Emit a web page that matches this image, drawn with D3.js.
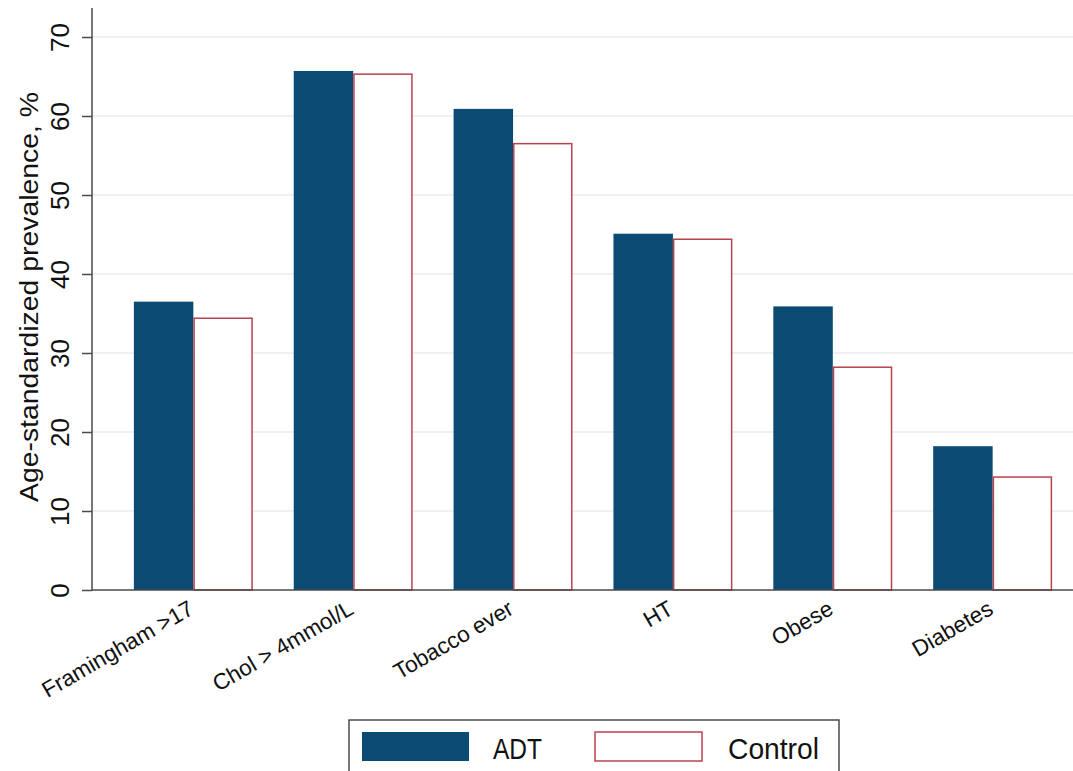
<!DOCTYPE html>
<html>
<head>
<meta charset="utf-8">
<script src="https://cdn.jsdelivr.net/npm/d3@7"></script>
<style>
  html, body { margin: 0; padding: 0; background: #ffffff; }
  svg { display: block; font-family: "Liberation Sans", Arial, Helvetica, sans-serif; }
</style>
</head>
<body>
<svg id="chart" width="1073" height="771"></svg>
<script>
const categories = ["Framingham >17", "Chol > 4mmol/L", "Tobacco ever", "HT", "Obese", "Diabetes"];
const seriesNames = ["ADT", "Control"];
const adtValues = [36.5, 65.7, 60.9, 45.1, 35.9, 18.2];
const controlValues = [34.4, 65.3, 56.5, 44.4, 28.2, 14.3];
const yTicks = [0, 10, 20, 30, 40, 50, 60, 70];
const yTitle = "Age-standardized prevalence, %";

const W = 1073, H = 771;
const axisX = 92, axisBottom = 590, axisTopPx = 8;
const adtColor = "#0b4a73";
const ctrlStroke = "#b9434d";
const axisColor = "#4a4a4a";
const gridColor = "#e9ecee";

const svg = d3.select("#chart");
svg.append("rect").attr("width", W).attr("height", H).attr("fill", "#fff");

const y = d3.scaleLinear().domain([0, 70]).range([axisBottom, 37]);
const x0 = d3.scaleBand().domain(categories).range([axisX, 1094])
  .paddingInner(0.256).paddingOuter(0.262);
const x1 = d3.scaleBand().domain(seriesNames).range([0, x0.bandwidth()]).padding(0);

// gridlines
svg.append("g").selectAll("line").data(yTicks.filter(d => d > 0)).join("line")
  .attr("x1", axisX).attr("x2", W)
  .attr("y1", d => y(d)).attr("y2", d => y(d))
  .attr("stroke", gridColor).attr("stroke-width", 1.5);

// bars
const rows = categories.map((c, i) => ({ cat: c, vals: [
  { s: "ADT", v: adtValues[i] }, { s: "Control", v: controlValues[i] }] }));

const groups = svg.append("g").selectAll("g").data(rows).join("g")
  .attr("transform", d => `translate(${x0(d.cat)},0)`);

groups.selectAll("rect").data(d => d.vals).join("rect")
  .attr("x", d => x1(d.s) + (d.s === "Control" ? 0.75 : 0))
  .attr("width", d => x1.bandwidth() - (d.s === "Control" ? 1.5 : 0))
  .attr("y", d => y(d.v))
  .attr("height", d => axisBottom - y(d.v))
  .attr("fill", d => d.s === "ADT" ? adtColor : "#ffffff")
  .attr("stroke", d => d.s === "ADT" ? "none" : ctrlStroke)
  .attr("stroke-width", 1.5);

// y axis
const yAxis = d3.axisLeft(y).tickValues(yTicks).tickSize(10).tickPadding(0).tickFormat(d3.format("d"));
const gy = svg.append("g").attr("transform", `translate(${axisX},0)`).call(yAxis);
gy.select(".domain").remove();
gy.selectAll(".tick line").attr("stroke", axisColor).attr("stroke-width", 1.5);
gy.selectAll(".tick text")
  .attr("x", null).attr("dy", null)
  .attr("transform", "translate(-23,0) rotate(-90)")
  .attr("text-anchor", "middle")
  .attr("font-size", 26)
  .attr("fill", "#111");
svg.append("line").attr("x1", axisX).attr("x2", axisX)
  .attr("y1", axisTopPx).attr("y2", axisBottom + 0.75)
  .attr("stroke", axisColor).attr("stroke-width", 1.5);

// x axis
svg.append("line").attr("x1", axisX).attr("x2", W)
  .attr("y1", axisBottom).attr("y2", axisBottom)
  .attr("stroke", axisColor).attr("stroke-width", 1.5);

const xAxis = d3.axisBottom(x0).tickSize(0).tickPadding(0);
const gx = svg.append("g").attr("transform", `translate(0,${axisBottom})`).call(xAxis);
gx.select(".domain").remove();
gx.selectAll(".tick text")
  .attr("y", null).attr("dy", null)
  .attr("transform", "translate(2,23) rotate(-30)")
  .attr("text-anchor", "end")
  .attr("font-size", 22.5)
  .attr("fill", "#111");

// y title
svg.append("text")
  .attr("transform", `translate(38,${(502 + 92) / 2}) rotate(-90)`)
  .attr("text-anchor", "middle")
  .attr("font-size", 26)
  .attr("textLength", 410)
  .attr("lengthAdjust", "spacingAndGlyphs")
  .attr("fill", "#111")
  .text(yTitle);

// legend
const lg = svg.append("g");
lg.append("rect").attr("x", 349).attr("y", 720).attr("width", 490).attr("height", 70)
  .attr("fill", "#fff").attr("stroke", axisColor).attr("stroke-width", 1.5);
const legendItems = [
  { name: seriesNames[0], sx: 362, tx: 493, tl: 49 },
  { name: seriesNames[1], sx: 595, tx: 728, tl: 91 }
];
legendItems.forEach((it, i) => {
  lg.append("rect").attr("x", it.sx).attr("y", 732).attr("width", 107).attr("height", 29)
    .attr("fill", i === 0 ? adtColor : "#fff")
    .attr("stroke", i === 0 ? "none" : ctrlStroke).attr("stroke-width", 1.5);
  lg.append("text").attr("x", it.tx).attr("y", 759)
    .attr("font-size", 30).attr("textLength", it.tl).attr("lengthAdjust", "spacingAndGlyphs")
    .attr("fill", "#111").text(it.name);
});
</script>
</body>
</html>
